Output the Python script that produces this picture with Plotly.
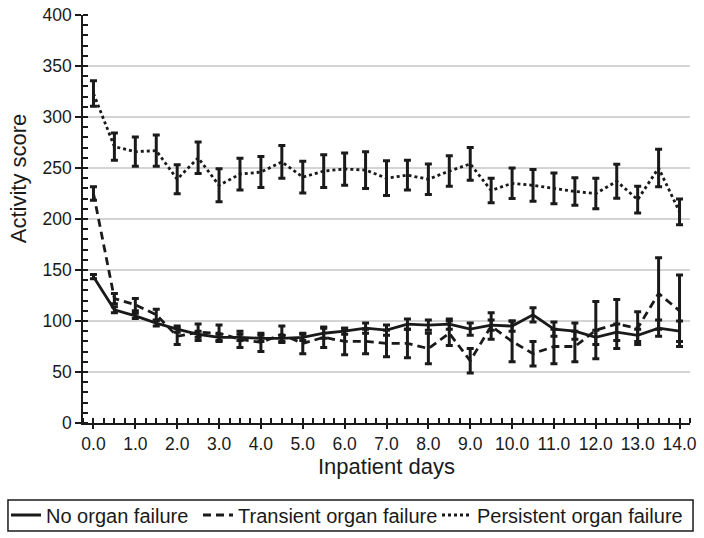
import plotly.graph_objects as go

days = [i * 0.5 for i in range(29)]
tick_labels = [f"{d:.1f}" for d in range(15)]

no_of_mean = [143.5, 111, 105, 98, 92, 87, 84, 84, 83, 83, 84, 88, 90, 93, 91,
              97, 96, 97, 92, 96, 95, 106, 92, 90, 84, 89, 86, 93, 90]
no_of_err = [2, 3, 2.5, 3, 3, 3, 3, 3, 3, 3, 3, 5, 3, 5, 5,
             5, 5, 5, 6, 5, 5, 7, 7, 8, 7, 8, 6, 8, 10]

trans_mean = [225, 122, 116, 106, 85, 89, 88, 82, 79, 87, 78, 84, 80, 80, 78,
              78, 73, 88, 61, 95, 80, 68, 75, 75, 91, 97, 93, 127, 110]
trans_err = [6.5, 5, 6, 5.5, 8, 8, 8, 8, 9, 8, 10, 10, 13, 12, 13,
             14, 15, 12, 12, 13, 20, 12, 17, 15, 28, 24, 16, 35, 35]

pers_mean = [323, 271, 266, 267, 239, 260, 233, 244, 246, 256, 241, 247, 249, 248, 240,
             243, 239, 247, 254, 228, 235, 233, 230, 227, 225, 237, 219, 250, 207]
pers_err = [12.5, 13.4, 14.3, 15.3, 14.3, 15.5, 16.2, 15.5, 15.2, 16, 15.5, 16, 15.8, 18, 17,
            14.6, 15, 15, 16, 12, 15, 15.5, 15, 13.5, 15, 16.7, 13, 18.5, 12.6]

series = [
    ("No organ failure", no_of_mean, no_of_err, "solid", "legend"),
    ("Transient organ failure", trans_mean, trans_err, "8px,5px", "legend2"),
    ("Persistent organ failure", pers_mean, pers_err, "dot", "legend3"),
]

INK = "#1a1a1a"
FONT = "Liberation Sans, Arial, sans-serif"
W, H = 704, 538

fig = go.Figure()
for name, mean, err, dash, lg in series:
    fig.add_trace(go.Scatter(
        x=days, y=mean, name=name, mode="lines", legend=lg,
        line=dict(color=INK, width=2.8, dash=dash),
        error_y=dict(type="data", array=err, visible=True,
                     color=INK, thickness=3, width=3.5),
    ))

def leg(xpx):
    return dict(orientation="h", xref="container", x=xpx / W, xanchor="left",
                yref="container", y=(H - 515) / H, yanchor="middle",
                font=dict(size=20, family=FONT, color=INK),
                bgcolor="rgba(0,0,0,0)", borderwidth=0)

fig.update_layout(
    width=W, height=H,
    margin=dict(l=83, r=14, t=15, b=115, autoexpand=False),
    paper_bgcolor="white", plot_bgcolor="white",
    font=dict(family=FONT, color=INK, size=17.5),
    showlegend=True,
    legend=leg(6),
    legend2=leg(198),
    legend3=leg(437),
)

fig.update_xaxes(
    range=[-0.25, 14.25],
    tickmode="array", tickvals=list(range(15)), ticktext=tick_labels,
    ticks="outside", ticklen=4, tickwidth=1.5, tickcolor=INK,
    showline=True, linecolor=INK, linewidth=1.5,
    showgrid=False, zeroline=False,
    minor=dict(dtick=0.25, tick0=0, ticks="inside", ticklen=5,
               tickwidth=1.5, tickcolor=INK, showgrid=False),
    tickfont=dict(size=17.5), tickangle=0, ticklabeloverflow="allow",
    title=dict(text="Inpatient days", font=dict(size=22), standoff=6),
)

fig.update_yaxes(
    range=[0, 400], dtick=50, tick0=0,
    ticks="outside", ticklen=6, tickwidth=1.5, tickcolor=INK,
    showline=True, linecolor=INK, linewidth=1.5,
    showgrid=True, gridcolor="#d4d4d4", gridwidth=1.5,
    zeroline=False,
    minor=dict(dtick=10, ticks="inside", ticklen=5, tickwidth=1.5,
               tickcolor=INK, showgrid=False),
    tickfont=dict(size=17.5), ticklabeloverflow="allow",
)

fig.add_annotation(text="Activity score", xref="paper", yref="paper",
                   x=-0.107, y=0.6, xanchor="center", yanchor="middle",
                   textangle=-90, showarrow=False,
                   font=dict(size=22, family=FONT, color=INK))

# legend frame
fig.add_shape(type="rect", xref="paper", yref="paper",
              x0=-0.1236, x1=1.005, y0=-0.265, y1=-0.189,
              line=dict(color=INK, width=1.5), fillcolor="rgba(0,0,0,0)")

fig.write_html("out.html", config={"displayModeBar": False},
               post_script="document.body.style.margin='0';")
